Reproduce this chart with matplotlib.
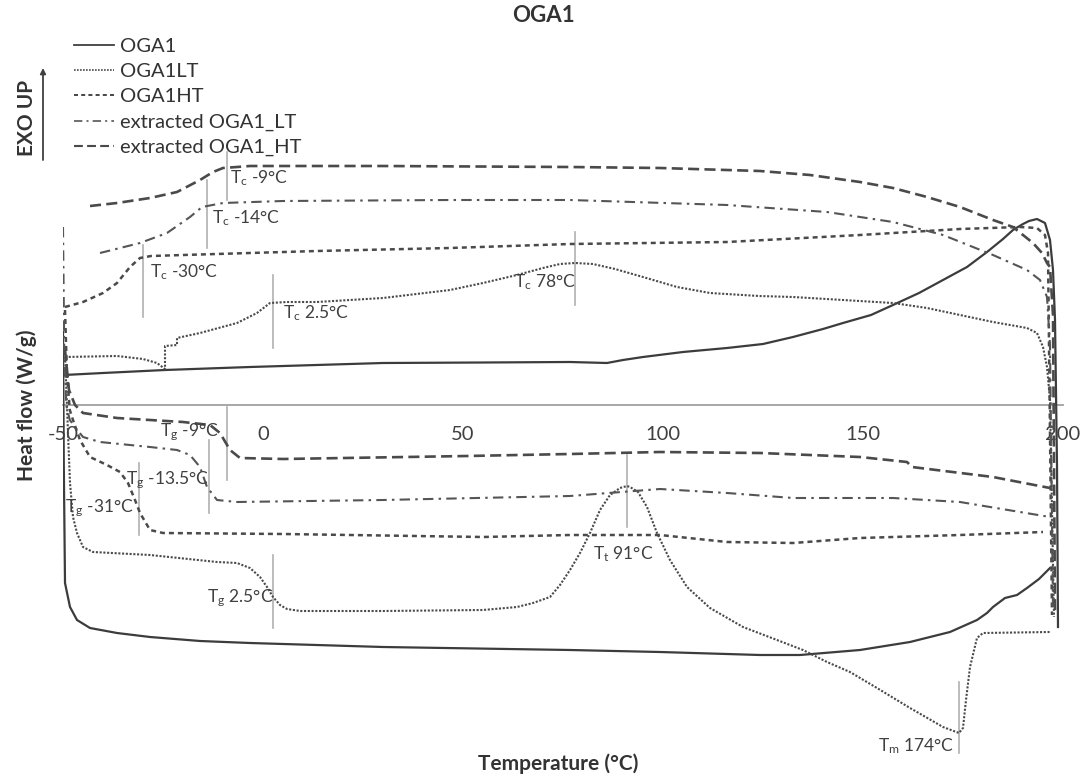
import matplotlib
matplotlib.use("Agg")
import matplotlib.pyplot as plt
from matplotlib.lines import Line2D

plt.rcParams["font.family"] = ["Lato", "DejaVu Sans"]
plt.rcParams["mathtext.fontset"] = "custom"
plt.rcParams["mathtext.rm"] = "Lato"
plt.rcParams["mathtext.it"] = "Lato:italic"
plt.rcParams["mathtext.bf"] = "Lato:bold"
plt.rcParams["mathtext.default"] = "regular"
plt.rcParams["axes.unicode_minus"] = False

# ---------------- DSC data (temperature in °C, heat flow in W/g) ----------------
# OGA1
oga1_cool_T = [-49.75, -40, -24.5, -3.25, 30, 55, 76.75, 86, 90, 95, 105, 116, 125,
               132.5, 140, 145, 152, 157.5, 164, 170, 176, 181, 185, 187.5, 190,
               191.5, 193.5, 195.5, 196.75, 197.5, 198, 198.5, 198.75]
oga1_cool_Q = [0.30, 0.32, 0.35, 0.38, 0.42, 0.425, 0.43, 0.42, 0.45, 0.48, 0.53, 0.57,
               0.61, 0.68, 0.76, 0.82, 0.90, 1.00, 1.12, 1.25, 1.38, 1.53, 1.66, 1.75,
               1.81, 1.84, 1.86, 1.82, 1.65, 1.35, 0.85, -0.60, -2.22]
oga1_heat_T = [-50, -49.8, -49.5, -48.25, -46.5, -43.25, -36.5, -28.25, -15.75, -3.25,
               30, 76.75, 99.25, 124.25, 134.25, 149.25, 161.75, 171.75, 178.5, 181,
               182.5, 185.5, 188.5, 191, 194, 196.75]
oga1_heat_Q = [0.73, -0.60, -1.78, -2.02, -2.15, -2.23, -2.28, -2.32, -2.36, -2.38,
               -2.42, -2.45, -2.47, -2.50, -2.50, -2.45, -2.37, -2.27, -2.15, -2.08,
               -2.02, -1.93, -1.90, -1.83, -1.74, -1.63]

# OGA1LT
lt_cool_T = [-49.5, -36.5, -30, -26.5, -24.5, -24.5, -21.5, -21.5, -15.75, -6.5, -1.5,
             1.75, 6, 13.5, 30, 46.75, 55, 63.5, 70, 74.25, 78, 82.5, 88, 95, 103.5,
             111.75, 124, 132.5, 145, 157.5, 166, 174.25, 182.5, 191, 193.5, 195, 196,
             196.75, 197.75]
lt_cool_Q = [0.48, 0.49, 0.46, 0.42, 0.36, 0.59, 0.60, 0.67, 0.72, 0.82, 0.92, 1.02,
             1.03, 1.03, 1.07, 1.15, 1.22, 1.30, 1.37, 1.41, 1.42, 1.41, 1.36, 1.28,
             1.18, 1.12, 1.09, 1.08, 1.05, 1.02, 0.97, 0.90, 0.83, 0.77, 0.72, 0.58,
             0.38, 0.05, -2.12]
lt_heat_T = [-49.5, -48.75, -48.25, -47.5, -46.5, -45, -42.5, -28.25, -11.5, -6.5,
             -3.25, -0.75, 1, 2.5, 4.25, 6, 9.25, 30, 55, 63.5, 67.5, 71.75, 74.25,
             76.75, 79.25, 81.75, 84.25, 86.75, 89.25, 91, 91.75, 93.75, 96, 98.5,
             101.75, 106, 111.75, 120, 128.5, 135, 141, 146.75, 153.5, 161.75, 170,
             174, 175, 175.75, 176.75, 178.5, 180, 196.75]
lt_heat_Q = [0.52, -0.28, -0.78, -1.12, -1.28, -1.42, -1.47, -1.50, -1.57, -1.58,
             -1.63, -1.72, -1.82, -1.92, -2.00, -2.04, -2.06, -2.06, -2.05, -2.02,
             -1.98, -1.92, -1.80, -1.65, -1.48, -1.28, -1.05, -0.90, -0.83, -0.81,
             -0.82, -0.87, -1.02, -1.28, -1.55, -1.82, -2.03, -2.22, -2.35, -2.45,
             -2.57, -2.67, -2.83, -3.03, -3.22, -3.28, -3.23, -2.95, -2.62, -2.33,
             -2.28, -2.27]

# OGA1HT
ht_cool_T = [-49.5, -45, -40, -36.5, -33.25, -30.75, -28, -20, 13.5, 46.75, 76.75,
             116, 149.25, 174.25, 189.25, 193.5, 195.5, 196.25, 197.25]
ht_cool_Q = [0.98, 1.03, 1.12, 1.22, 1.38, 1.47, 1.49, 1.50, 1.54, 1.57, 1.61, 1.63,
             1.70, 1.76, 1.78, 1.77, 1.70, 1.52, -2.10]
ht_heat_T = [-49.5, -49, -48.3, -47.5, -45.75, -43.25, -39, -35.75, -33.75, -32,
             -30.75, -28.25, -25, 5, 55, 76.75, 99.25, 116, 132.5, 149.25, 174.25, 195]
ht_heat_Q = [0.95, 0.30, -0.05, -0.15, -0.35, -0.52, -0.60, -0.67, -0.78, -0.95,
             -1.08, -1.25, -1.28, -1.29, -1.32, -1.30, -1.30, -1.37, -1.38, -1.33,
             -1.30, -1.27]

# extracted OGA1_LT
xlt_cool_T = [-40.75, -30.75, -24, -18.25, -15.25, -10, 5, 46.75, 76.75, 116, 141,
              157.5, 170, 182.5, 191, 194.25, 196, 196.75, 197.5]
xlt_cool_Q = [1.52, 1.62, 1.72, 1.88, 1.98, 2.02, 2.04, 2.05, 2.05, 2.00, 1.93, 1.83,
              1.70, 1.50, 1.35, 1.25, 1.08, 0.60, -2.05]
xlt_heat_T = [-50, -49.7, -49.2, -48.3, -47, -45, -40.75, -28.25, -21.5, -18.25,
              -15.75, -14, -11.5, -6.5, 30, 76.75, 99.25, 116, 132.5, 157.5, 174.25,
              196.75]
xlt_heat_Q = [1.78, 0.60, 0.00, -0.15, -0.22, -0.32, -0.37, -0.42, -0.45, -0.50,
              -0.62, -0.82, -0.95, -0.97, -0.95, -0.91, -0.84, -0.88, -0.93, -0.93,
              -0.97, -1.12]

# extracted OGA1_HT
xht_cool_T = [-43.25, -36.5, -28.25, -21.5, -15.75, -12.5, -10, -6.5, -3.25, 30,
              76.75, 99.25, 124.25, 136.75, 149.25, 157.5, 166, 174.25, 182.5, 187.5,
              192.5, 194.75, 196, 196.75, 197.5, 198]
xht_cool_Q = [1.99, 2.02, 2.07, 2.13, 2.25, 2.33, 2.37, 2.38, 2.39, 2.39, 2.38, 2.37,
              2.34, 2.30, 2.23, 2.17, 2.08, 1.98, 1.85, 1.78, 1.62, 1.52, 1.42, 1.38,
              0.90, -2.08]
xht_heat_T = [-49.5, -48.5, -47, -45, -36.5, -20, -13.25, -10.75, -8.25, -5.75, 5,
              51, 76.75, 99.25, 124.25, 149.25, 161, 162.25, 182.5, 196.75]
xht_heat_Q = [0.55, 0.15, 0.00, -0.08, -0.13, -0.17, -0.20, -0.28, -0.45, -0.53,
              -0.54, -0.51, -0.49, -0.47, -0.48, -0.52, -0.57, -0.62, -0.72, -0.83]

series_names = ["OGA1", "OGA1LT", "OGA1HT", "extracted OGA1_LT", "extracted OGA1_HT"]

# transition temperatures (°C) and their kind (c: crystallisation, g: glass, t, m: melting)
trans_T = [-9, -14, -30, 2.5, 78, -9, -13.5, -31, 2.5, 91, 174]
trans_kind = ["c", "c", "c", "c", "c", "g", "g", "g", "g", "t", "m"]

x_ticks = [-50, 0, 50, 100, 150, 200]
x_tick_labels = ["-50", "0", "50", "100", "150", "200"]

# ---------------- figure ----------------
W, H = 1085, 779
fig = plt.figure(figsize=(W / 100, H / 100), dpi=100)
fig.patch.set_facecolor("white")
ax = fig.add_axes([63 / W, 19 / H, 1000 / W, 660 / H])
ax.set_xlim(-50, 200)
ax.set_ylim(-3.55, 3.05)

styles = [
    dict(color="#3c3c3c", lw=1.6, ls="-"),
    dict(color="#4a4a4a", lw=1.5, ls=(0, (1, 0.8))),
    dict(color="#4a4a4a", lw=1.8, ls=(0, (2.0, 1.6))),
    dict(color="#555555", lw=1.5, ls=(0, (5, 2.5, 1.2, 2.5))),
    dict(color="#4a4a4a", lw=1.9, ls=(0, (4.2, 2.0))),
]
curves = [
    (oga1_cool_T, oga1_cool_Q, oga1_heat_T, oga1_heat_Q),
    (lt_cool_T, lt_cool_Q, lt_heat_T, lt_heat_Q),
    (ht_cool_T, ht_cool_Q, ht_heat_T, ht_heat_Q),
    (xlt_cool_T, xlt_cool_Q, xlt_heat_T, xlt_heat_Q),
    (xht_cool_T, xht_cool_Q, xht_heat_T, xht_heat_Q),
]
handles = []
for name, st, (cT, cQ, hT, hQ) in zip(series_names, styles, curves):
    ax.plot(cT, cQ, color=st["color"], lw=st["lw"], ls=st["ls"], zorder=3)
    ax.plot(hT, hQ, color=st["color"], lw=st["lw"], ls=st["ls"], zorder=3)
    handles.append(Line2D([], [], color=st["color"], lw=st["lw"] * 0.8, ls=st["ls"]))

# transition markers: (y range of marker line, text y, text x offset, alignment)
marker_layout = [
    ((2.05, 2.53), 2.27, 0.8, "left"),
    ((1.57, 2.25), 1.87, 1.2, "left"),
    ((0.88, 1.60), 1.33, 1.8, "left"),
    ((0.57, 1.30), 0.92, 2.5, "left"),
    ((1.00, 1.73), 1.23, 0.3, "right"),
    ((-0.75, -0.02), -0.27, -2.0, "right"),
    ((-1.08, -0.35), -0.75, 0.1, "right"),
    ((-1.30, -0.58), -1.03, -1.4, "right"),
    ((-2.23, -1.50), -1.93, 0.0, "right"),
    ((-1.22, -0.50), -1.49, -1.0, "center"),
    ((-3.48, -2.77), -3.41, -1.2, "right"),
]
for t, kind, ((y0, y1), ty, dx, ha) in zip(trans_T, trans_kind, marker_layout):
    ax.plot([t, t], [y0, y1], color="#b0b0b0", lw=1.2, zorder=2, clip_on=False)
    ax.text(t + dx, ty, f"T$_{kind}$ {t:g}°C", fontsize=12.5, color="#404040",
            ha=ha, va="center", zorder=4)

# axes styling
for s in ("left", "top", "right"):
    ax.spines[s].set_visible(False)
ax.spines["bottom"].set_position(("data", 0))
ax.spines["bottom"].set_color("#a0a0a0")
ax.spines["bottom"].set_linewidth(1.3)
ax.set_xticks(x_ticks)
ax.set_xticklabels(x_tick_labels)
ax.tick_params(axis="x", length=0, pad=15, labelsize=14.5, labelcolor="#404040")
ax.set_yticks([])

ax.set_xlabel("Temperature (°C)", fontsize=15, fontweight="bold", color="#333333",
              va="center")
ax.xaxis.set_label_coords((558 - 63) / 1000, (760 - 764) / 660)
ax.set_ylabel("Heat flow (W/g)", fontsize=15, fontweight="bold", color="#333333",
              va="center")
ax.yaxis.set_label_coords((27 - 63) / 1000, (760 - 405) / 660)

fig.text(543 / W, 1 - 16 / H, "OGA1", fontsize=16, fontweight="bold",
         color="#333333", ha="center", va="center")

# exotherm direction
fig.text(27 / W, 1 - 118 / H, "EXO UP", rotation=90, fontsize=15, fontweight="bold",
         color="#333333", ha="center", va="center")
ax.annotate("", xy=(43 / W, 1 - 68 / H), xytext=(43 / W, 1 - 160 / H),
            xycoords="figure fraction", textcoords="figure fraction",
            arrowprops=dict(arrowstyle="-|>", lw=1.3, color="#404040",
                            mutation_scale=8, shrinkA=0, shrinkB=0))

fig.legend(handles, series_names, loc="upper left",
           bbox_to_anchor=(74 / W, 1 - 38 / H), frameon=False, fontsize=14.5,
           handlelength=2.0, handletextpad=0.3, labelspacing=0.40, borderpad=0,
           borderaxespad=0, labelcolor="#333333")

fig.savefig("out.png", dpi=100, facecolor="white")
